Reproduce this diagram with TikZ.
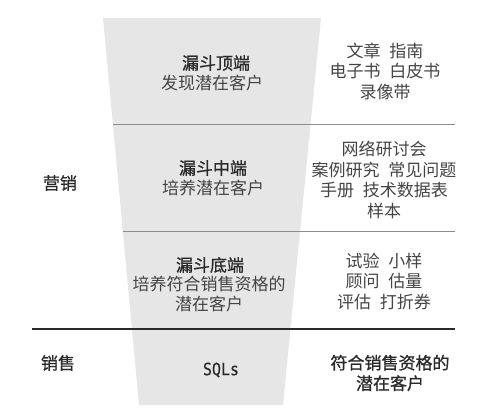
\documentclass[tikz,border=0pt]{standalone}
\usepackage{fontspec}
\setmainfont{Noto Sans CJK SC}
\newfontfamily\cjk{Noto Sans CJK SC}
\newfontfamily\cjkmed[FakeBold=0.9]{Noto Sans CJK SC}
\newfontfamily\monofam[FakeBold=0.5]{DejaVu Sans Mono}
\definecolor{funnelgray}{HTML}{E6E6E6}
\definecolor{rulegray}{HTML}{8C8C8C}
\definecolor{txtgray}{HTML}{444444}
\definecolor{headdark}{HTML}{2A2A2A}
\newcommand{\gap}{\hspace{9pt}}
\begin{document}
\begin{tikzpicture}[x=1pt,y=-1pt,
  txt/.style={font=\cjk\fontsize{17}{20.5}\selectfont, text=txtgray, align=center, inner sep=0pt},
  head/.style={font=\cjkmed\fontsize{17}{20.5}\selectfont, text=headdark, align=center, inner sep=0pt},
  side/.style={font=\cjkmed\fontsize{17}{20.5}\selectfont, text=headdark, inner sep=0pt},
  thinrule/.style={draw=rulegray, line width=1pt},
  thickrule/.style={draw=headdark, line width=2.6pt}]
\useasboundingbox (0,0) rectangle (503,417);
% funnel
\fill[funnelgray] (103,18) -- (321,18) -- (283,405) -- (139,405) -- cycle;
% rules
\coordinate (r1a) at (113,125); \coordinate (r1b) at (455,125);
\coordinate (r2a) at (123,231); \coordinate (r2b) at (455,231);
\coordinate (r3a) at (32,329);  \coordinate (r3b) at (455,329);
\draw[thinrule] (r1a) -- (r1b);
\draw[thinrule] (r2a) -- (r2b);
\draw[thickrule] (r3a) -- (r3b);
% top section
\node[head] (h1) at (216,63) {漏斗顶端};
\node[txt] (s1) at (212,83) {发现潜在客户};
\node[txt] (c1) at (385,71) {文章\gap 指南\\电子书\gap 白皮书\\录像带};
% middle section
\node[side] (mk) at (60,183) {营销};
\node[head] (h2) at (213,168) {漏斗中端};
\node[txt] (s2) at (213,188) {培养潜在客户};
\node[txt] (c2) at (384,180) {网络研讨会\\案例研究\gap 常见问题\\手册\gap 技术数据表\\样本};
% bottom section
\node[head] (h3) at (210,265) {漏斗底端};
\node[txt] (s3) at (209,294) {培养符合销售资格的\\潜在客户};
\node[txt] (c3) at (384,281) {试验\gap 小样\\顾问\gap 估量\\评估\gap 打折券};
% sales
\node[side] (sl) at (58,363) {销售};
\node[font=\monofam\fontsize{17}{18}\selectfont, text=headdark, inner sep=0pt, xscale=0.88, transform shape] (sq) at (221,370) {SQLs};
\node[head] (c4) at (390,373) {符合销售资格的\\潜在客户};
\end{tikzpicture}
\end{document}
